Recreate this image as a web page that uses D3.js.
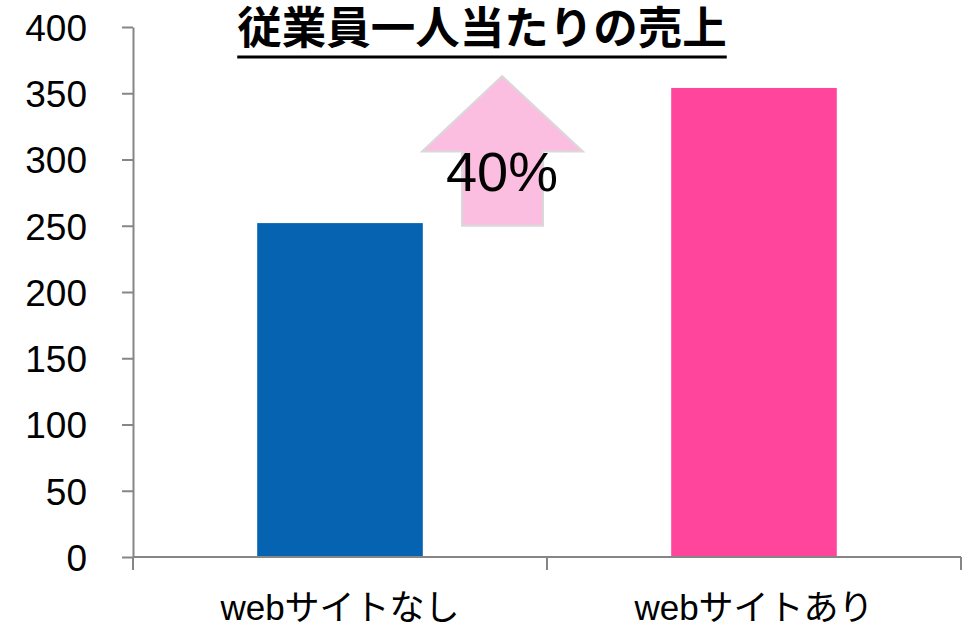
<!DOCTYPE html>
<html>
<head>
<meta charset="utf-8">
<script src="https://cdn.jsdelivr.net/npm/d3@7"></script>
<style>
  body { margin: 0; background: #fff; }
  svg { display: block; font-family: "Liberation Sans", Arial, sans-serif; }
</style>
</head>
<body>
<svg width="969" height="627"></svg>
<script>
// Chart data
const categories = ["webサイトなし", "webサイトあり"];
const values = [252, 354];
const barColors = ["#0563b1", "#ff459c"];
const yTicks = [0, 50, 100, 150, 200, 250, 300, 350, 400];
const title = "従業員一人当たりの売上";
const growthLabel = "40%";

const margin = { top: 27, right: 8, bottom: 70, left: 133 },
      width = 969 - margin.left - margin.right,
      height = 627 - margin.top - margin.bottom;

const svg = d3.select("svg")
    .append("g")
    .attr("transform", `translate(${margin.left},${margin.top})`);

const x = d3.scaleBand()
    .domain(categories)
    .range([0, width])
    .paddingInner(0.6)
    .paddingOuter(0.3);

const y = d3.scaleLinear()
    .domain([0, 400])
    .range([height, 0]);

// Bars
svg.selectAll(".bar")
    .data(values)
    .enter().append("rect")
    .attr("class", "bar")
    .attr("x", (d, i) => x(categories[i]))
    .attr("y", d => y(d))
    .attr("width", x.bandwidth())
    .attr("height", d => height - y(d))
    .style("fill", (d, i) => barColors[i]);

// Y axis
const yAxis = svg.append("g")
    .call(d3.axisLeft(y).tickValues(yTicks).tickSize(11).tickPadding(35).tickSizeOuter(0));
yAxis.select(".domain").attr("stroke", "#868686").attr("stroke-width", 2);
yAxis.selectAll(".tick line").attr("stroke", "#868686").attr("stroke-width", 2);
yAxis.selectAll(".tick text")
    .style("font-family", "'Liberation Sans', Arial, sans-serif")
    .style("font-size", "37px")
    .style("fill", "#000")
    .attr("dy", "0.36em");

// X axis (ticks at band boundaries)
const xAxis = svg.append("g")
    .attr("transform", `translate(0,${height})`);
xAxis.append("line")
    .attr("x1", 0).attr("x2", width)
    .attr("stroke", "#868686").attr("stroke-width", 2);
const bounds = [0, x.step(), width];
xAxis.selectAll(".xtick")
    .data(bounds)
    .enter().append("line")
    .attr("x1", d => d).attr("x2", d => d)
    .attr("y1", 0).attr("y2", 13)
    .attr("stroke", "#868686").attr("stroke-width", 2);
xAxis.selectAll(".xlabel")
    .data(categories)
    .enter().append("text")
    .attr("x", d => x(d) + x.bandwidth() / 2)
    .attr("y", 63)
    .attr("text-anchor", "middle")
    .style("font-size", "35px")
    .style("font-family", "'Liberation Sans', 'Noto Sans CJK JP', sans-serif")
    .text(d => d);

// Growth arrow between the bars
const ax = (x(categories[0]) + x.bandwidth() + x(categories[1])) / 2 - 45;
const tipY = y(363), headY = y(306), baseY = y(250);
const arrow = [
    [ax, tipY], [ax + 81, headY], [ax + 41, headY], [ax + 41, baseY],
    [ax - 40, baseY], [ax - 40, headY], [ax - 80, headY]
];
svg.append("path")
    .attr("d", d3.line()(arrow) + "Z")
    .style("fill", "#fcbee0")
    .style("stroke", "#d9d9d9")
    .style("stroke-width", 2);
svg.append("text")
    .attr("x", ax)
    .attr("y", y(276))
    .attr("text-anchor", "middle")
    .style("font-size", "56px")
    .style("fill", "#000")
    .text(growthLabel);

// Title
const t = d3.select("svg").append("text")
    .attr("x", 482)
    .attr("y", 44)
    .attr("text-anchor", "middle")
    .style("font-family", "'Noto Sans CJK JP', sans-serif")
    .style("font-weight", "bold")
    .style("font-size", "44.5px")
    .style("fill", "#000")
    .text(title);
const tb = t.node().getBBox();
d3.select("svg").append("line")
    .attr("x1", tb.x).attr("x2", tb.x + tb.width)
    .attr("y1", 57).attr("y2", 57)
    .attr("stroke", "#000").attr("stroke-width", 3);
</script>
</body>
</html>
